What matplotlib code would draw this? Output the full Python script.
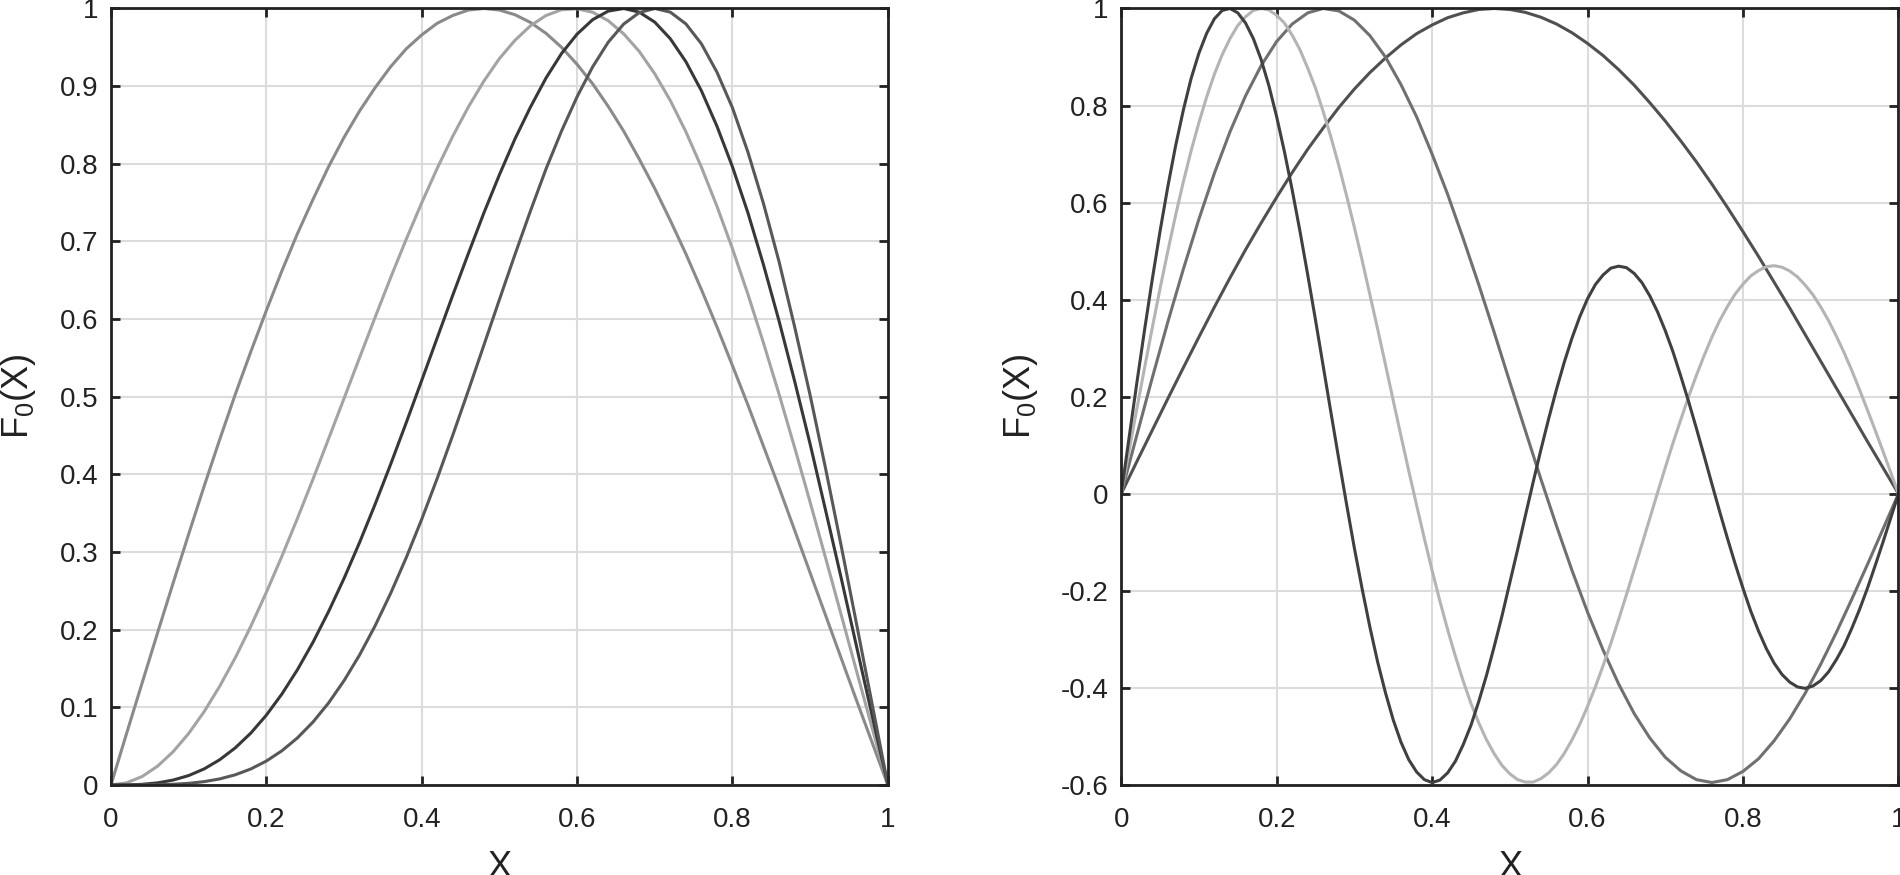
import matplotlib
matplotlib.use("Agg")
import matplotlib.pyplot as plt

plt.rcParams['font.family'] = ['Liberation Sans', 'DejaVu Sans']
plt.rcParams['mathtext.fontset'] = 'custom'
plt.rcParams['mathtext.rm'] = 'Liberation Sans'
plt.rcParams['mathtext.it'] = 'Liberation Sans'
plt.rcParams['mathtext.default'] = 'regular'
plt.rcParams['axes.unicode_minus'] = False

# sample positions read along x (step 0.02 and 0.01)
x_grid = [0.00, 0.02, 0.04, 0.06, 0.08, 0.10, 0.12, 0.14, 0.16, 0.18, 0.20, 0.22, 0.24,
          0.26, 0.28, 0.30, 0.32, 0.34, 0.36, 0.38, 0.40, 0.42, 0.44, 0.46, 0.48, 0.50,
          0.52, 0.54, 0.56, 0.58, 0.60, 0.62, 0.64, 0.66, 0.68, 0.70, 0.72, 0.74, 0.76,
          0.78, 0.80, 0.82, 0.84, 0.86, 0.88, 0.90, 0.92, 0.94, 0.96, 0.98, 1.00]
x_fine = [0.00, 0.01, 0.02, 0.03, 0.04, 0.05, 0.06, 0.07, 0.08, 0.09, 0.10, 0.11, 0.12,
          0.13, 0.14, 0.15, 0.16, 0.17, 0.18, 0.19, 0.20, 0.21, 0.22, 0.23, 0.24, 0.25,
          0.26, 0.27, 0.28, 0.29, 0.30, 0.31, 0.32, 0.33, 0.34, 0.35, 0.36, 0.37, 0.38,
          0.39, 0.40, 0.41, 0.42, 0.43, 0.44, 0.45, 0.46, 0.47, 0.48, 0.49, 0.50, 0.51,
          0.52, 0.53, 0.54, 0.55, 0.56, 0.57, 0.58, 0.59, 0.60, 0.61, 0.62, 0.63, 0.64,
          0.65, 0.66, 0.67, 0.68, 0.69, 0.70, 0.71, 0.72, 0.73, 0.74, 0.75, 0.76, 0.77,
          0.78, 0.79, 0.80, 0.81, 0.82, 0.83, 0.84, 0.85, 0.86, 0.87, 0.88, 0.89, 0.90,
          0.91, 0.92, 0.93, 0.94, 0.95, 0.96, 0.97, 0.98, 0.99, 1.00]

# left panel: single-hump curves, peak moves right
left_a = [0, .066, .131, .196, .260, .323, .385, .445, .503, .558, .611, .662, .710,
          .754, .796, .834, .868, .898, .925, .948, .966, .981, .991, .998, 1.000, .998,
          .992, .982, .968, .950, .928, .903, .874, .842, .806, .768, .727, .684, .638,
          .590, .540, .489, .436, .383, .328, .273, .218, .163, .108, .054, 0]
left_b = [0, .0027, .0108, .0242, .0428, .0663, .0945, .1272, .1638, .2043, .2481, .2945, .3433,
          .3937, .4455, .4978, .5503, .6023, .6534, .7027, .7498, .7943, .8356, .8731, .9065, .9355,
          .959, .9778, .991, .9984, .9996, .9952, .9843, .9673, .9447, .9158, .8814, .8413, .7957,
          .7453, .6905, .6316, .5689, .5031, .4346, .3639, .2918, .2188, .1455, .0724, 0]
left_c = [0, .0001, .0008, .0027, .0063, .0121, .0207, .0325, .0478, .0668, .0899, .1171, .1484,
          .1837, .2231, .2660, .3123, .3615, .4130, .4664, .5210, .5760, .6309, .6844, .7367, .7859,
          .832, .8731, .9105, .9421, .967, .9856, .9966, 1.0, .9953, .9824, .961, .9315, .894,
          .8484, .796, .7364, .6696, .5973, .520, .4388, .353, .2661, .177, .0882, 0]
left_d = [0, 0, .0001, .0003, .0009, .0021, .0043, .0078, .0131, .0206, .0308, .0440, .0606,
          .0810, .1055, .1343, .1674, .2050, .2468, .2926, .3422, .3950, .4506, .5079, .5664, .6251,
          .6831, .7394, .7934, .8423, .8864, .9248, .9565, .9800, .9947, 1.0, .9953, .9802, .9545,
          .918, .872, .8146, .7484, .6737, .590, .5016, .4067, .3076, .2057, .1028, 0]

# right panel: one to four lobes
right_1 = list(left_a)
right_2 = [0, .120, .239, .354, .463, .566, .661, .746, .820, .882, .932, .968, .991,
           1.000, .995, .976, .944, .900, .843, .777, .700, .617, .526, .431, .332, .230,
           .130, .030, -.066, -.158, -.244, -.322, -.392, -.453, -.503, -.543, -.571, -.589, -.595,
           -.589, -.572, -.546, -.509, -.464, -.411, -.351, -.286, -.217, -.146, -.073, 0]
right_3 = [0, .087, .174, .259, .342, .423, .500, .574, .643, .707, .765, .818, .865,
           .905, .938, .965, .983, .996, 1.000, .997, .986, .970, .945, .915, .877, .836,
           .787, .734, .676, .614, .549, .481, .410, .339, .266, .192, .119, .047, -.023,
           -.092, -.158, -.221, -.280, -.335, -.386, -.432, -.472, -.507, -.536, -.560, -.577, -.589,
           -.594, -.594, -.587, -.575, -.558, -.535, -.507, -.475, -.438, -.398, -.354, -.308, -.259,
           -.208, -.156, -.104, -.051, .002, .054, .105, .153, .200, .244, .285, .323, .357,
           .386, .412, .432, .449, .460, .468, .470, .467, .459, .447, .430, .410, .385,
           .357, .325, .291, .254, .214, .173, .131, .088, .044, 0]
right_4 = [0, .114, .227, .337, .442, .541, .633, .717, .791, .856, .908, .949, .979,
           .996, 1.000, .991, .970, .938, .895, .841, .777, .705, .626, .541, .451, .358,
           .262, .166, .071, -.022, -.112, -.196, -.275, -.347, -.410, -.466, -.512, -.548, -.573,
           -.589, -.595, -.590, -.575, -.551, -.517, -.477, -.428, -.374, -.314, -.251, -.183, -.115,
           -.045, .024, .091, .155, .215, .271, .321, .365, .402, .431, .451, .465, .469,
           .466, .454, .435, .408, .375, .336, .292, .242, .190, .135, .078, .020, -.037,
           -.092, -.145, -.195, -.242, -.283, -.319, -.349, -.372, -.388, -.398, -.401, -.396, -.385,
           -.367, -.342, -.313, -.277, -.238, -.195, -.148, -.100, -.050, 0]

x_ticks = [0, 0.2, 0.4, 0.6, 0.8, 1.0]
x_ticklabels = ['0', '0.2', '0.4', '0.6', '0.8', '1']
yl_ticks = [0, 0.1, 0.2, 0.3, 0.4, 0.5, 0.6, 0.7, 0.8, 0.9, 1.0]
yl_ticklabels = ['0', '0.1', '0.2', '0.3', '0.4', '0.5', '0.6', '0.7', '0.8', '0.9', '1']
yr_ticks = [-0.6, -0.4, -0.2, 0, 0.2, 0.4, 0.6, 0.8, 1.0]
yr_ticklabels = ['-0.6', '-0.4', '-0.2', '0', '0.2', '0.4', '0.6', '0.8', '1']

ink = '#222222'
fig = plt.figure(figsize=(19, 8.75), dpi=100)
ax1 = fig.add_axes([0.0584, 0.1029, 0.4089, 0.8874])
ax2 = fig.add_axes([0.5901, 0.1029, 0.4091, 0.8874])

lw = 2.2
ax1.plot(x_grid, left_a, color='#8a8a8a', lw=lw)
ax1.plot(x_grid, left_b, color='#a3a3a3', lw=lw)
ax1.plot(x_grid, left_c, color='#383838', lw=lw)
ax1.plot(x_grid, left_d, color='#585858', lw=lw)

ax2.plot(x_grid, right_1, color='#505050', lw=lw)
ax2.plot(x_grid, right_2, color='#707070', lw=lw)
ax2.plot(x_fine, right_3, color='#b4b4b4', lw=lw)
ax2.plot(x_fine, right_4, color='#404040', lw=lw)

panels = [(ax1, yl_ticks, yl_ticklabels, (0, 1), -0.0945),
          (ax2, yr_ticks, yr_ticklabels, (-0.6, 1), -0.105)]
for ax, yt, ytl, ylim, ylab_x in panels:
    ax.set_xlim(0, 1)
    ax.set_ylim(*ylim)
    ax.set_xticks(x_ticks)
    ax.set_xticklabels(x_ticklabels)
    ax.set_yticks(yt)
    ax.set_yticklabels(ytl)
    ax.grid(True, color='#dcdcdc', lw=1.5)
    ax.set_axisbelow(True)
    for s in ax.spines.values():
        s.set_linewidth(2.0)
        s.set_color(ink)
    ax.tick_params(direction='in', length=6.5, width=2.0, color=ink,
                   top=True, right=True, labelsize=20, labelcolor=ink)
    ax.tick_params(axis='x', pad=16)
    ax.tick_params(axis='y', pad=9)
    ax.set_xlabel('X', fontsize=26, color=ink)
    ax.xaxis.set_label_coords(0.5, -0.0837)
    ax.set_ylabel('F$_0$(X)', fontsize=26, color=ink)
    ax.yaxis.set_label_coords(ylab_x, 0.5)

fig.savefig('out.png', dpi=100)
